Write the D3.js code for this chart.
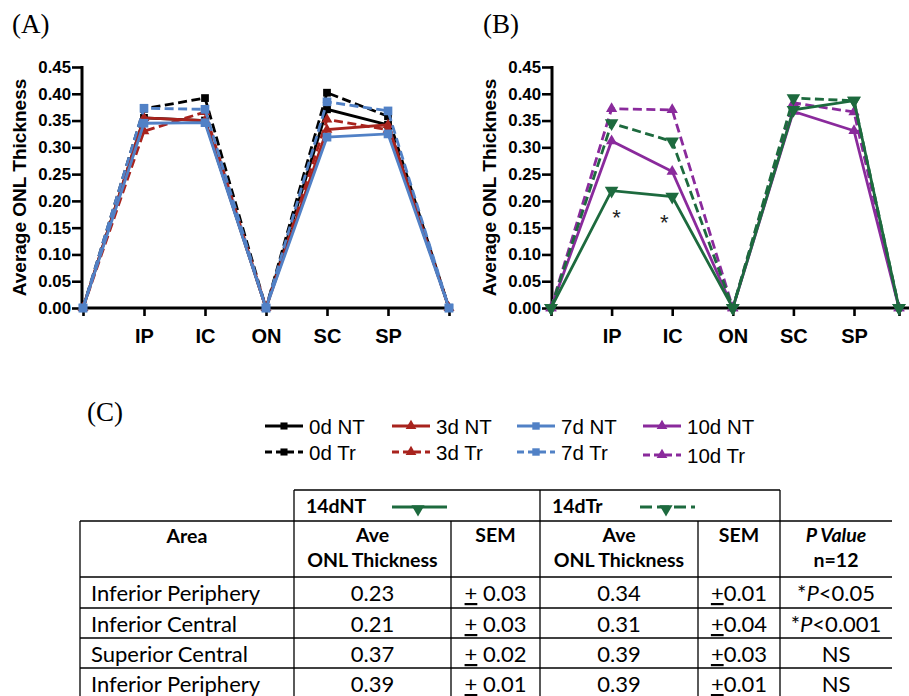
<!DOCTYPE html>
<html><head><meta charset="utf-8">
<script src="https://cdn.jsdelivr.net/npm/d3@7"></script>
<style>body{margin:0;background:#fff;} svg{display:block;}</style>
</head><body>
<svg id="c" width="909" height="696"></svg>
<script>
// ---------------- DATA ----------------
const categories = ["", "IP", "IC", "ON", "SC", "SP", ""];
const yTickValues = [0, 0.05, 0.10, 0.15, 0.20, 0.25, 0.30, 0.35, 0.40, 0.45];

// Panel A
const nt0 = [0, 0.355, 0.350, 0, 0.371, 0.342, 0];
const tr0 = [0, 0.372, 0.392, 0, 0.402, 0.358, 0];
const nt3 = [0, 0.355, 0.350, 0, 0.333, 0.342, 0];
const tr3 = [0, 0.330, 0.366, 0, 0.352, 0.333, 0];
const nt7 = [0, 0.345, 0.346, 0, 0.319, 0.325, 0];
const tr7 = [0, 0.373, 0.371, 0, 0.385, 0.368, 0];
// Panel B
const nt10 = [0, 0.312, 0.255, 0, 0.367, 0.331, 0];
const tr10 = [0, 0.372, 0.370, 0, 0.383, 0.366, 0];
const nt14 = [0, 0.219, 0.208, 0, 0.370, 0.387, 0];
const tr14 = [0, 0.345, 0.311, 0, 0.392, 0.387, 0];
const asteriskCats = [1, 2];
const asteriskVals = [0.175, 0.167];

const legendNT = ["0d NT", "3d NT", "7d NT", "10d NT"];
const legendTr = ["0d Tr", "3d Tr", "7d Tr", "10d Tr"];

// Table
const groupHeaders = ["14dNT", "14dTr"];
const areas = ["Inferior Periphery", "Inferior Central", "Superior Central", "Inferior Periphery"];
const ave14NT = ["0.23", "0.21", "0.37", "0.39"];
const sem14NT = ["0.03", "0.03", "0.02", "0.01"];
const ave14Tr = ["0.34", "0.31", "0.39", "0.39"];
const sem14Tr = ["0.01", "0.04", "0.03", "0.01"];
const pPrefix = ["*", "*", "", ""];
const pValues = ["<0.05", "<0.001", "NS", "NS"];

// ---------------- STYLES ----------------
const C = {d0: "#000000", d3: "#A8231D", d7: "#5181C6", d10: "#8A2A9C", d14: "#1D6A3E"};
const DASH = "9,4.5";
const sansB = "'Liberation Sans', Arial, sans-serif";
const tableFont = "Lato, 'Open Sans', sans-serif";

const svg = d3.select("#c");
const y = d3.scaleLinear().domain([0, 0.45]).range([308, 67]);

function markerPath(type, size) {
  if (type === "square") return d3.symbol(d3.symbolSquare, size)();
  return d3.symbol(d3.symbolTriangle, size)();
}

function drawPanel(x, axisX, axisEnd, series, titleX) {
  const g = svg.append("g");
  const ya = g.append("g").attr("transform", `translate(${axisX},0)`)
    .call(d3.axisLeft(y).tickValues(yTickValues).tickFormat(d3.format(".2f"))
      .tickSize(10).tickSizeOuter(0).tickPadding(1));
  ya.select(".domain").attr("stroke-width", 3).attr("d", `M0,${y(0)+1.5}V${y(0.45)-1}`);
  ya.selectAll(".tick line").attr("stroke-width", 2.6);
  ya.selectAll(".tick text").attr("font-family", sansB).attr("font-weight", "bold")
    .attr("font-size", 16.8).attr("fill", "#000");
  const xa = g.append("g").attr("transform", `translate(0,${y(0)})`)
    .call(d3.axisBottom(x).tickValues(d3.range(categories.length))
      .tickFormat(i => categories[i]).tickSize(8).tickSizeOuter(0).tickPadding(13));
  xa.select(".domain").attr("stroke-width", 3).attr("d", `M${axisX-1.5},0H${axisEnd}`);
  xa.selectAll(".tick line").attr("stroke-width", 2.6);
  xa.selectAll(".tick text").attr("font-family", sansB).attr("font-weight", "bold")
    .attr("font-size", 20).attr("fill", "#000");
  g.append("text").attr("transform", `translate(${titleX},${y(0.225)}) rotate(-90)`)
    .attr("text-anchor", "middle").attr("font-family", sansB).attr("font-weight", "bold")
    .attr("font-size", 19).attr("fill", "#000").text("Average ONL Thickness");

  const line = d3.line().x((d, i) => x(i)).y(d => y(d));
  series.forEach(s => {
    g.append("path").attr("d", line(s.values)).attr("fill", "none")
      .attr("stroke", s.color).attr("stroke-width", 2.8)
      .attr("stroke-dasharray", s.dashed ? DASH : null).attr("stroke-linejoin", "miter");
    g.selectAll(null).data(s.values).enter().append("path")
      .attr("d", markerPath(s.marker, s.size))
      .attr("transform", (d, i) => `translate(${x(i)},${y(d)})${s.down ? " rotate(180)" : ""}`)
      .attr("fill", s.color);
  });
  return g;
}

const xA = d3.scaleLinear().domain([0, 6]).range([83, 449]);
const xB = d3.scaleLinear().domain([0, 5, 6]).range([551, 854, 899]);

drawPanel(xA, 82, 452, [
  {values: nt0, color: C.d0, dashed: false, marker: "square", size: 60},
  {values: tr0, color: C.d0, dashed: true, marker: "square", size: 60},
  {values: nt3, color: C.d3, dashed: false, marker: "triangle", size: 50},
  {values: tr3, color: C.d3, dashed: true, marker: "triangle", size: 50},
  {values: nt7, color: C.d7, dashed: false, marker: "square", size: 75},
  {values: tr7, color: C.d7, dashed: true, marker: "square", size: 75},
], 26);

const gB = drawPanel(xB, 552, 909, [
  {values: nt10, color: C.d10, dashed: false, marker: "triangle", size: 55},
  {values: tr10, color: C.d10, dashed: true, marker: "triangle", size: 55},
  {values: nt14, color: C.d14, dashed: false, marker: "triangle", size: 80, down: true},
  {values: tr14, color: C.d14, dashed: true, marker: "triangle", size: 80, down: true},
], 496);

gB.selectAll(null).data(asteriskCats).enter().append("text")
  .attr("x", (d, i) => xB(d) + (i === 0 ? 5 : -8))
  .attr("y", (d, i) => y(asteriskVals[i]) + 11)
  .attr("text-anchor", "middle").attr("font-family", sansB).attr("font-size", 22)
  .attr("fill", "#222").text("*");

const serif = "'Liberation Serif', 'Times New Roman', serif";
[["(A)", 12, 33], ["(B)", 483, 33], ["(C)", 87, 421]].forEach(([t, px, py]) => {
  svg.append("text").attr("x", px).attr("y", py).attr("font-family", serif)
    .attr("font-size", 27).attr("fill", "#000").text(t);
});

// ---------------- LEGEND ----------------
const legColors = [C.d0, C.d3, C.d7, C.d10];
const legMarkers = [["square", 50], ["triangle", 50], ["square", 55], ["triangle", 50]];
const legX = [265, 392, 517, 643];
const legRowY = [426, 452];
const lg = svg.append("g");
[legendNT, legendTr].forEach((labels, r) => {
  labels.forEach((lab, i) => {
    const ly = legRowY[r] + (r === 1 && i === 3 ? 3 : 0);
    lg.append("line").attr("x1", legX[i]).attr("x2", legX[i] + 38)
      .attr("y1", ly).attr("y2", ly).attr("stroke", legColors[i]).attr("stroke-width", 2.8)
      .attr("stroke-dasharray", r === 1 ? "7,4" : null);
    lg.append("path").attr("d", markerPath(legMarkers[i][0], legMarkers[i][1]))
      .attr("transform", `translate(${legX[i] + 19},${ly})`).attr("fill", legColors[i]);
    lg.append("text").attr("x", legX[i] + 44).attr("y", ly + 7.5)
      .attr("font-family", sansB).attr("font-size", 20.5).attr("fill", "#000").text(lab);
  });
});

// ---------------- TABLE ----------------
const tg = svg.append("g");
const colEdges = [80, 294, 451, 540, 698, 780, 892];
const rowEdges = [521, 577, 608, 638, 668, 698];
const hdrTop = 490;
const stroke = (x1, y1, x2, y2) => tg.append("line").attr("x1", x1).attr("y1", y1)
  .attr("x2", x2).attr("y2", y2).attr("stroke", "#000").attr("stroke-width", 1.3);

stroke(colEdges[1], hdrTop, colEdges[5], hdrTop);
[colEdges[1], colEdges[3], colEdges[5]].forEach(xx => stroke(xx, hdrTop, xx, rowEdges[0]));
rowEdges.forEach(ry => stroke(colEdges[0], ry, colEdges[6], ry));
colEdges.slice(0, 6).forEach(xx => stroke(xx, rowEdges[0], xx, 696));

const T = (x, yy, txt, opts = {}) => tg.append("text").attr("x", x).attr("y", yy)
  .attr("text-anchor", opts.anchor || "middle").attr("font-family", tableFont)
  .attr("font-weight", opts.bold ? "bold" : "normal").attr("font-style", opts.italic ? "italic" : "normal")
  .attr("font-size", opts.size || 22).attr("fill", "#000").text(txt);

groupHeaders.forEach((h, i) => {
  const x0 = colEdges[1 + 2 * i];
  T(x0 + 12, 513, h, {anchor: "start", bold: true, size: 19.5});
  const lx = x0 + (i === 0 ? 98 : 100);
  tg.append("line").attr("x1", lx).attr("x2", lx + 55).attr("y1", 507).attr("y2", 507)
    .attr("stroke", C.d14).attr("stroke-width", 2.8).attr("stroke-dasharray", i === 1 ? "12,5" : null);
  tg.append("path").attr("d", markerPath("triangle", 75))
    .attr("transform", `translate(${lx + 26},${509}) rotate(180)`).attr("fill", C.d14);
});

const mid = k => (colEdges[k] + colEdges[k + 1]) / 2;
T(mid(0), 543, "Area", {bold: true, size: 19.5});
T(mid(1), 542, "Ave", {bold: true, size: 19.5});
T(mid(1), 567, "ONL Thickness", {bold: true, size: 19.5});
T(mid(2), 542, "SEM", {bold: true, size: 19.5});
T(mid(3), 542, "Ave", {bold: true, size: 19.5});
T(mid(3), 567, "ONL Thickness", {bold: true, size: 19.5});
T(mid(4), 542, "SEM", {bold: true, size: 19.5});
T(mid(5), 542, "P Value", {bold: true, italic: true, size: 19.5});
T(mid(5), 567, "n=12", {bold: true, size: 19.5});

areas.forEach((a, r) => {
  const by = rowEdges[r + 1] + 24;
  T(91, by, a, {anchor: "start"});
  T(mid(1), by, ave14NT[r]);
  const s1 = T(mid(2), by, "");
  s1.append("tspan").attr("text-decoration", "underline").text("+");
  s1.append("tspan").text(" " + sem14NT[r]);
  T(mid(3), by, ave14Tr[r]);
  const s2 = T(mid(4), by, "");
  s2.append("tspan").attr("text-decoration", "underline").text("+");
  s2.append("tspan").text(sem14Tr[r]);
  const p = T(mid(5), by, "");
  if (pPrefix[r]) {
    p.append("tspan").text(pPrefix[r]);
    p.append("tspan").attr("font-style", "italic").text("P");
  }
  p.append("tspan").text(pValues[r]);
});
</script>
</body></html>
